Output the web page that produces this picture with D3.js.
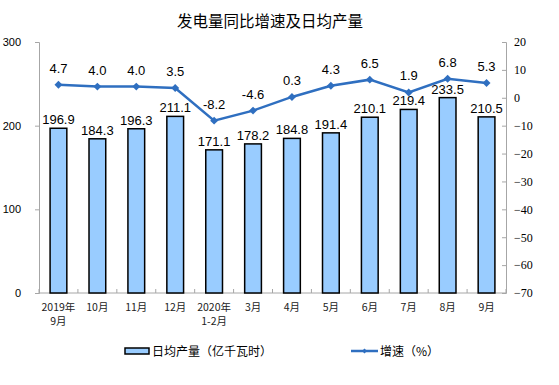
<!DOCTYPE html>
<html>
<head>
<meta charset="utf-8">
<script src="https://cdn.jsdelivr.net/npm/d3@7"></script>
<style>
body { margin: 0; background: #fff; }
</style>
</head>
<body>
<div id="chart"></div>
<script>
let months = ['2019年\n9月', '10月', '11月', '12月', '2020年\n1-2月', '3月', '4月', '5月', '6月', '7月', '8月', '9月']
let dailyOutput = [196.9, 184.3, 196.3, 211.1, 171.1, 178.2, 184.8, 191.4, 210.1, 219.4, 233.5, 210.5]
let growth = [4.7, 4.0, 4.0, 3.5, -8.2, -4.6, 0.3, 4.3, 6.5, 1.9, 6.8, 5.3]
let leftTicks = [0, 100, 200, 300]
let rightTicks = [20, 10, 0, -10, -20, -30, -40, -50, -60, -70]

let W = 559
let H = 385
let plotLeft = 39
let plotRight = 506
let plotTop = 42
let plotBottom = 293

let lineColor = '#2F6FC0'
let axisColor = '#a6a6a6'
let cjk = '"Noto Sans CJK SC", sans-serif'

let svg = d3.select('#chart').append('svg').attr('width', W).attr('height', H)

let x = d3.scaleBand().domain(d3.range(months.length)).range([plotLeft, plotRight]).paddingInner(0.57).paddingOuter(0.285)
let xb = d3.scaleBand().domain(d3.range(months.length)).range([plotLeft, plotRight])
let yL = d3.scaleLinear().domain([0, 300]).range([plotBottom, plotTop])
let yR = d3.scaleLinear().domain([-70, 20]).range([plotBottom, plotTop])

// title
svg.append('text')
	.attr('x', 270)
	.attr('y', 27)
	.attr('text-anchor', 'middle')
	.attr('font-family', cjk)
	.attr('font-size', 15.5)
	.attr('fill', '#000')
	.text('发电量同比增速及日均产量')

// left axis
let gL = svg.append('g').attr('transform', `translate(${plotLeft},0)`)
	.call(d3.axisLeft(yL).tickValues(leftTicks).tickSize(4).tickPadding(14))
gL.select('.domain').attr('stroke', axisColor)
gL.selectAll('.tick line').attr('stroke', axisColor)
gL.selectAll('.tick text')
	.attr('font-family', 'Liberation Sans, Arial, sans-serif')
	.attr('font-size', 11)
	.attr('fill', '#000')

// right axis
let gR = svg.append('g').attr('transform', `translate(${plotRight},0)`)
	.call(d3.axisRight(yR).tickValues(rightTicks).tickSize(-4).tickPadding(8))
gR.select('.domain').attr('stroke', axisColor)
gR.selectAll('.tick line').attr('stroke', axisColor)
gR.selectAll('.tick text')
	.attr('font-family', 'Liberation Serif, Times New Roman, serif')
	.attr('font-size', 12)
	.attr('fill', '#000')

// bottom axis
svg.append('line')
	.attr('x1', plotLeft).attr('x2', plotRight)
	.attr('y1', plotBottom).attr('y2', plotBottom)
	.attr('stroke', axisColor)
svg.selectAll('.xtick')
	.data(d3.range(months.length + 1))
	.join('line')
	.attr('x1', d => plotLeft + d * xb.bandwidth())
	.attr('x2', d => plotLeft + d * xb.bandwidth())
	.attr('y1', plotBottom)
	.attr('y2', plotBottom - 4)
	.attr('stroke', axisColor)

let xl = svg.selectAll('.xlab')
	.data(months)
	.join('text')
	.attr('text-anchor', 'middle')
	.attr('font-family', cjk)
	.attr('font-size', 10.5)
	.attr('fill', '#222')
xl.each(function (d, i) {
	let parts = d.split('\n')
	let t = d3.select(this)
	parts.forEach((p, j) => {
		t.append('tspan')
			.attr('x', xb(i) + xb.bandwidth() / 2)
			.attr('y', 311 + j * 14)
			.text(p)
	})
})

// bars
svg.selectAll('.bar')
	.data(dailyOutput)
	.join('rect')
	.attr('x', (d, i) => x(i))
	.attr('y', d => yL(d))
	.attr('width', x.bandwidth())
	.attr('height', d => plotBottom - yL(d))
	.attr('fill', '#99CCFF')
	.attr('stroke', '#000')
	.attr('stroke-width', 1.5)

svg.selectAll('.barlab')
	.data(dailyOutput)
	.join('text')
	.attr('x', (d, i) => xb(i) + xb.bandwidth() / 2)
	.attr('y', d => yL(d) - 4)
	.attr('text-anchor', 'middle')
	.attr('font-family', 'Liberation Sans, Arial, sans-serif')
	.attr('font-size', 13)
	.attr('fill', '#000')
	.text(d => d.toFixed(1))

// line
let line = d3.line()
	.x((d, i) => xb(i) + xb.bandwidth() / 2)
	.y(d => yR(d))

svg.append('path')
	.datum(growth)
	.attr('d', line)
	.attr('fill', 'none')
	.attr('stroke', lineColor)
	.attr('stroke-width', 2.5)

svg.selectAll('.pt')
	.data(growth)
	.join('path')
	.attr('d', d3.symbol().type(d3.symbolDiamond2).size(40))
	.attr('transform', (d, i) => `translate(${xb(i) + xb.bandwidth() / 2},${yR(d)})`)
	.attr('fill', lineColor)

svg.selectAll('.ptlab')
	.data(growth)
	.join('text')
	.attr('x', (d, i) => xb(i) + xb.bandwidth() / 2)
	.attr('y', d => yR(d) - 12)
	.attr('text-anchor', 'middle')
	.attr('font-family', 'Liberation Sans, Arial, sans-serif')
	.attr('font-size', 13)
	.attr('fill', '#000')
	.text(d => d.toFixed(1))

// legend
svg.append('rect')
	.attr('x', 125).attr('y', 348)
	.attr('width', 24).attr('height', 6)
	.attr('fill', '#99CCFF')
	.attr('stroke', '#000')
	.attr('stroke-width', 1.5)
svg.append('text')
	.attr('x', 152).attr('y', 356)
	.attr('font-family', cjk)
	.attr('font-size', 12)
	.attr('fill', '#000')
	.text('日均产量（亿千瓦时）')

svg.append('line')
	.attr('x1', 351).attr('x2', 378)
	.attr('y1', 351).attr('y2', 351)
	.attr('stroke', lineColor)
	.attr('stroke-width', 2.5)
svg.append('path')
	.attr('d', d3.symbol().type(d3.symbolDiamond2).size(16))
	.attr('transform', 'translate(364.5,351)')
	.attr('fill', lineColor)
svg.append('text')
	.attr('x', 380).attr('y', 356)
	.attr('font-family', cjk)
	.attr('font-size', 12)
	.attr('fill', '#000')
	.text('增速（%）')
</script>
</body>
</html>
